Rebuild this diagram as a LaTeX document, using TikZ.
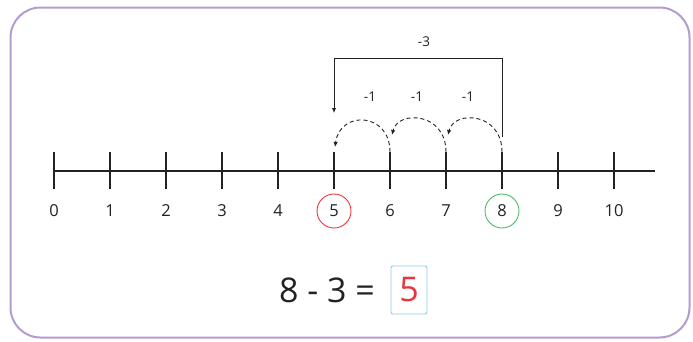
\documentclass[tikz,border=0pt]{standalone}
\usepackage{fontspec}
\setmainfont{Open Sans}
\usetikzlibrary{arrows.meta}
\definecolor{framecol}{HTML}{B39DD0}
\definecolor{ink}{HTML}{222222}
\definecolor{redc}{HTML}{E8353B}
\definecolor{greenc}{HTML}{4DB86A}
\definecolor{bluec}{HTML}{8ECBEA}
\tikzset{
  axis/.style={draw=ink, line width=1.2pt},
  num/.style={text=ink, font=\fontsize{16.5}{19}\selectfont, inner sep=0pt},
  small/.style={text=ink, font=\fontsize{13.5}{16}\selectfont, inner sep=0pt},
  ring/.style={circle, draw=#1, line width=0.9pt, minimum size=34pt, inner sep=0pt},
  hop/.style={draw=ink, line width=0.9pt, dash pattern=on 4pt off 3pt, -{Latex[length=5pt,width=4.5pt]}},
  jump/.style={draw=ink, line width=0.9pt, -{Latex[length=5pt,width=4.5pt]}},
}
\begin{document}
\begin{tikzpicture}[x=1pt,y=-1pt]
\useasboundingbox (0,0) rectangle (693,341);
\draw[framecol, line width=2pt, rounded corners=30pt] (10.5,7.5) rectangle (689.5,337.5);
\draw[axis] (53,171) -- (655,171);
\foreach \i in {0,...,10} {
  \pgfmathsetmacro\xx{54+56*\i}
  \draw[axis] (\xx,152) coordinate (top\i) -- (\xx,189);
  \node[num] (n\i) at (\xx,211) {\i};
}
\node[ring=redc] (c5) at (n5.center) {};
\node[ring=greenc] (c8) at (n8.center) {};
% hops
\draw[hop] (top8) .. controls (502,112) and (454,110) .. (448,135);
\draw[hop] (top7) .. controls (446,112) and (398,110) .. (392,135);
\draw[hop] (top6) .. controls (390,112) and (340,110) .. (335,147);
% big jump
\coordinate (j8) at (502,137);
\coordinate (jr) at (502,58);
\coordinate (jl) at (334,58);
\coordinate (j5) at (334,113);
\draw[jump] (j8) -- (jr) -- (jl) -- (j5);
\node[small] (m3) at (424,42) {-3};
\node[small] (m1a) at (370,97) {-1};
\node[small] (m1b) at (417,97) {-1};
\node[small] (m1c) at (468,97) {-1};
% equation
\node[text=ink, font=\fontsize{34}{40}\selectfont, inner sep=0pt] (eq) at (327,290) {8 - 3 =};
\node[draw=bluec, line width=0.9pt, rounded corners=2pt, minimum width=36pt, minimum height=48pt, inner sep=0pt, text=redc, font=\fontsize{34}{40}\selectfont] (ans) at (409,290) {5};
\end{tikzpicture}
\end{document}
